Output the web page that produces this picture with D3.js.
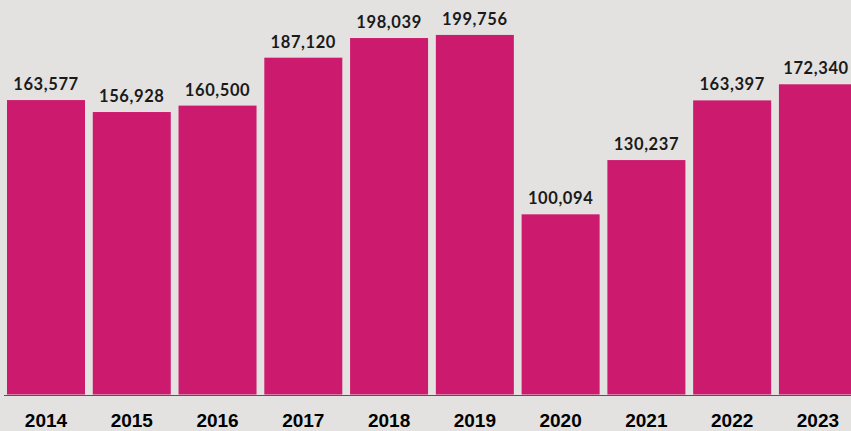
<!DOCTYPE html>
<html><head><meta charset="utf-8">
<script src="https://cdn.jsdelivr.net/npm/d3@7"></script>
<style>html,body{margin:0;padding:0;background:#e3e2e0;}svg{display:block;}</style>
</head><body>
<script>
const years = ["2014","2015","2016","2017","2018","2019","2020","2021","2022","2023"];
const values = [163577,156928,160500,187120,198039,199756,100094,130237,163397,172340];

const W = 851, H = 431;
const svg = d3.select("body").append("svg").attr("width", W).attr("height", H);
svg.append("rect").attr("width", W).attr("height", H).attr("fill", "#e3e2e0");

const step = 85.77;
const x = d3.scaleBand().domain(years).range([7, 7 + step*10 - 7.77]).paddingInner(7.77/step).paddingOuter(0);
const y = d3.scaleLinear().domain([0, 200000]).range([394.5, 34.5]);

svg.selectAll("rect.bar").data(years).join("rect")
  .attr("class","bar")
  .attr("x", d => x(d))
  .attr("width", x.bandwidth())
  .attr("y", (d,i) => y(values[i]))
  .attr("height", (d,i) => y(0) - y(values[i]))
  .attr("fill", "#cc1a6e");

svg.append("line").attr("x1", 4).attr("x2", W).attr("y1", 395.5).attr("y2", 395.5)
  .attr("stroke", "#555").attr("stroke-width", 1);

svg.selectAll("text.val").data(years).join("text")
  .attr("class","val")
  .attr("x", (d,i) => Math.min(x(d) + x.bandwidth()/2, 816))
  .attr("y", (d,i) => y(values[i]) - 10)
  .attr("text-anchor","middle")
  .attr("font-family","Lato, 'Open Sans', sans-serif")
  .attr("font-weight","700")
  .attr("font-size","16.5px")
  .attr("letter-spacing","0.6px")
  .attr("fill","#1a1a1a")
  .text((d,i) => d3.format(",")(values[i]));

svg.selectAll("text.yr").data(years).join("text")
  .attr("class","yr")
  .attr("x", d => x(d) + x.bandwidth()/2)
  .attr("y", 427)
  .attr("text-anchor","middle")
  .attr("font-family","'Liberation Sans', Arial, sans-serif")
  .attr("font-weight","700")
  .attr("font-size","19px")
  .attr("fill","#000")
  .text(d => d);
</script>
</body></html>
